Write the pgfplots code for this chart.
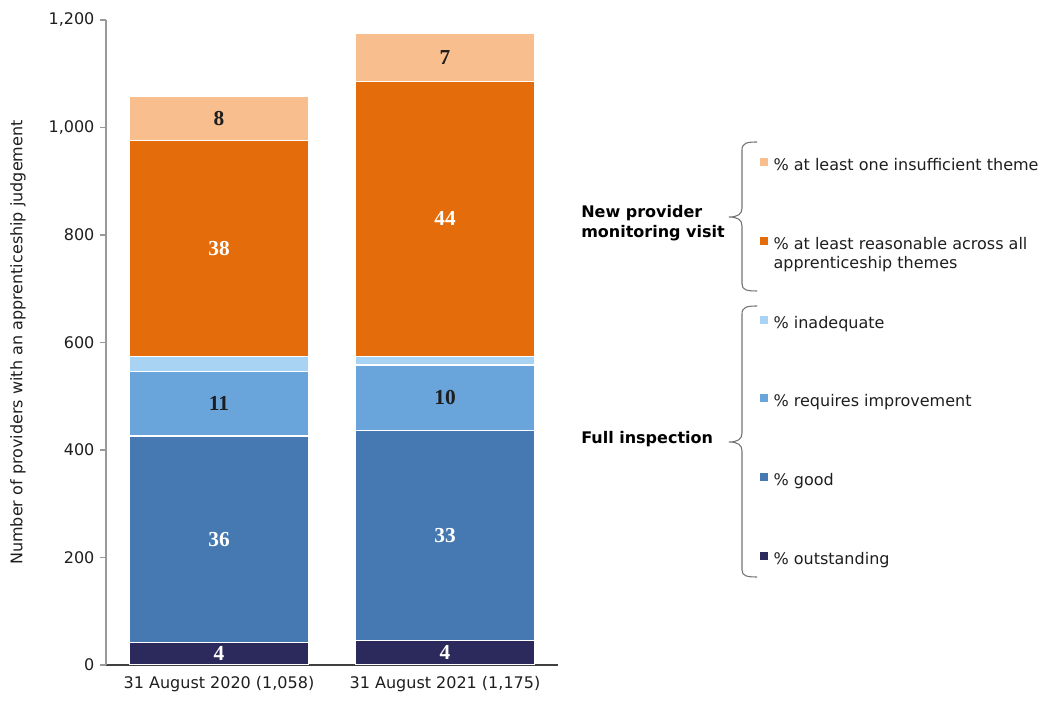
\documentclass[border=0pt]{standalone}
\usepackage{pgfplots}
\pgfplotsset{compat=1.18}
\usepackage{fontspec}
\setmainfont{DejaVu Sans}
\newfontfamily\labfont{Liberation Serif}

\definecolor{cOut}{HTML}{2C2A5C}
\definecolor{cGood}{HTML}{4679B2}
\definecolor{cRI}{HTML}{69A5DA}
\definecolor{cInad}{HTML}{A9D3F2}
\definecolor{cReas}{HTML}{E46C0A}
\definecolor{cInsuf}{HTML}{F9BE8E}
\definecolor{txt}{HTML}{1E1E1E}

\pgfplotsset{
  samebox/.style={at={(0,0)}, anchor=south west,
    scale only axis, width=339pt, height=483.75pt,
    xmin=-0.5, xmax=1.5, ymin=0, ymax=1200},
  seg/.style={fill=#1, draw=white, line width=1pt},
}

\begin{document}
\fontsize{12}{14.4}\selectfont
\begin{tikzpicture}
% whole picture = 1060 x 706 px, 1 px = 0.75pt, axis box lower left at px (106,665)
\path[use as bounding box] (-79.5pt,-30.75pt) rectangle (715.5pt,498.75pt);
\begin{axis}[
  samebox,
  ybar stacked, bar width=134.25pt,
  xtick={0,1},
  xticklabels={{31 August 2020 (1,058)},{31 August 2021 (1,175)}},
  ytick={0,200,...,1200},
  /pgf/number format/1000 sep={,},
  /pgf/number format/assume math mode=true,
  axis x line*=bottom, axis y line*=left,
  x axis line style={black!75, line width=0.8pt},
  y axis line style={black!40, line width=0.8pt},
  ytick style={black!40, line width=0.8pt},
  xtick style={draw=none},
  tick align=outside, major tick length=4.5pt,
  tick label style={text=txt},
  ylabel={Number of providers with an apprenticeship judgement},
  ylabel style={at={(axis description cs:-0.195,0.5)}, anchor=center, text=txt},
  legend image code/.code={\fill[#1,draw=none] (0pt,0.5pt) rectangle (6pt,6.5pt);},
  reverse legend,
  legend cell align=left,
  legend style={at={(axis description cs:1.4469,0.786)}, anchor=north west,
    draw=none, fill=none, inner sep=0pt, row sep=46.5pt, text=txt,
    nodes={inner sep=0pt, text height=9pt, text depth=3pt},
    /tikz/every odd column/.append style={column sep=4pt}},
]
% counts of providers, bottom to top
\addplot[seg=cOut] coordinates {(0,42) (1,46)};
\addlegendentry{\% outstanding}
\addplot[seg=cGood] coordinates {(0,384) (1,390)};
\addlegendentry{\% good}
\addplot[seg=cRI] coordinates {(0,120) (1,122)};
\addlegendentry{\% requires improvement}
\addplot[seg=cInad] coordinates {(0,28) (1,16)};
\addlegendentry{\% inadequate}
\addplot[seg=cReas] coordinates {(0,402) (1,512)};
\addlegendentry{\smash{\begin{tabular}[t]{@{}l@{}}\% at least reasonable across all\\apprenticeship themes\end{tabular}}}
\addplot[seg=cInsuf] coordinates {(0,82) (1,89)};
\addlegendentry{\% at least one insufficient theme}
\end{axis}

% percentage labels at the middle of each segment
\begin{axis}[
  samebox, hide axis,
  nodes near coords={\pgfplotspointmeta},
  point meta=explicit symbolic,
  every node near coord/.append style={anchor=center,
    font=\labfont\fontsize{16}{18}\selectfont\bfseries},
]
\addplot[only marks, mark=none,
  every node near coord/.append style={anchor=center, text=white}]
  coordinates {(0,21) [4] (1,23) [4] (0,234) [36] (1,241) [33]
               (0,775) [38] (1,830) [44]};
\addplot[only marks, mark=none,
  every node near coord/.append style={anchor=center, text=txt}]
  coordinates {(0,486) [11] (1,497) [10] (0,1017) [8] (1,1130) [7]};
\end{axis}

\begin{scope}[x=0.75pt, y=-0.75pt, shift={(-106,-665)}]
  % braces grouping the legend
  \draw[black!55, line width=0.8pt]
    (757,142) .. controls (747,142) and (742,143) .. (742,150) -- (742,208)
    .. controls (742,214) and (738,217) .. (729,217)
    .. controls (738,217) and (742,220) .. (742,226) -- (742,284)
    .. controls (742,290) and (747,291) .. (757,291);
  \draw[black!55, line width=0.8pt]
    (757,306) .. controls (747,306) and (742,307) .. (742,314) -- (742,433)
    .. controls (742,439) and (738,442) .. (729,442)
    .. controls (738,442) and (742,445) .. (742,451) -- (742,570)
    .. controls (742,576) and (747,577) .. (757,577);
  \node[anchor=west, inner sep=0pt, align=left, text=black,
    font=\bfseries\fontsize{12}{15.5}\selectfont] at (581,223) {New provider\\monitoring visit};
  \node[anchor=west, inner sep=0pt, text=black, font=\bfseries] at (581,439) {Full inspection};
\end{scope}
\end{tikzpicture}
\end{document}
